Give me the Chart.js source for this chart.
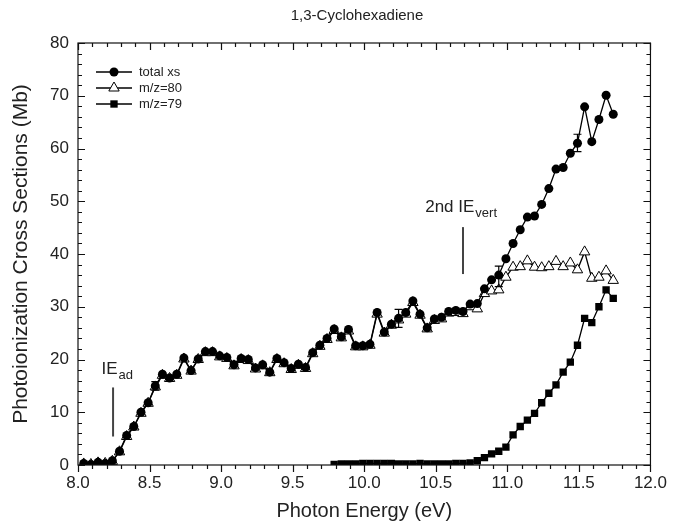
<!DOCTYPE html>
<html lang="en">
<head>
<meta charset="UTF-8" />
<title>1,3-Cyclohexadiene – photoionization cross sections</title>
<script src="https://cdn.jsdelivr.net/npm/chart.js"></script>
<style>
  html,body{margin:0;padding:0;background:#fff}
  #wrap{width:675px;height:525px}
</style>
</head>
<body>
<div id="wrap"><canvas id="xsChart" width="675" height="525"></canvas></div>

<script>
/* ---------- photon energies (eV) ---------- */
const energy = [
  8.04, 8.09, 8.14, 8.19, 8.24, 8.29, 8.34, 8.39, 8.44, 8.49,
  8.54, 8.59, 8.64, 8.69, 8.74, 8.79, 8.84, 8.89, 8.94, 8.99,
  9.04, 9.09, 9.14, 9.19, 9.24, 9.29, 9.34, 9.39, 9.44, 9.49,
  9.54, 9.59, 9.64, 9.69, 9.74, 9.79, 9.84, 9.89, 9.94, 9.99,
  10.04, 10.09, 10.14, 10.19, 10.24, 10.29, 10.34, 10.39, 10.44, 10.49,
  10.54, 10.59, 10.64, 10.69, 10.74, 10.79, 10.84, 10.89, 10.94, 10.99,
  11.04, 11.09, 11.14, 11.19, 11.24, 11.29, 11.34, 11.39, 11.44, 11.49,
  11.54, 11.59, 11.64, 11.69, 11.74
];

/* ---------- cross sections (Mb) ---------- */
const totalXs = [
  0.3, 0.1, 0.5, 0.3, 0.8, 2.6, 5.6, 7.3, 10.0, 11.8,
  15.0, 17.2, 16.5, 17.2, 20.3, 17.9, 20.1, 21.5, 21.5, 20.7,
  20.4, 19.0, 20.2, 20.0, 18.4, 19.0, 17.6, 20.2, 19.4, 18.3,
  19.1, 18.5, 21.3, 22.7, 24.0, 25.8, 24.3, 25.7, 22.6, 22.6,
  22.9, 28.9, 25.2, 26.7, 27.8, 28.9, 31.1, 28.6, 26.0, 27.7,
  28.0, 29.1, 29.3, 29.1, 30.5, 30.6, 33.4, 35.1, 36.0, 39.1,
  42.0, 44.6, 47.0, 47.2, 49.4, 52.4, 56.1, 56.4, 59.1, 61.0,
  67.9, 61.3, 65.5, 70.1, 66.5
];

const mz80 = [
  0.2, 0.1, 0.4, 0.3, 0.7, 2.5, 5.4, 7.2, 9.8, 11.7,
  14.8, 17.0, 16.4, 17.0, 20.1, 17.8, 20.0, 21.3, 21.3, 20.5,
  20.2, 18.8, 20.0, 19.8, 18.2, 18.8, 17.5, 20.0, 19.2, 18.1,
  18.9, 18.3, 21.1, 22.5, 23.8, 25.5, 24.1, 25.4, 22.4, 22.4,
  22.7, 28.6, 25.0, 26.5, 27.5, 28.6, 30.8, 28.4, 25.8, 27.4,
  27.7, 28.8, 28.9, 28.7, 30.0, 29.6, 32.5, 33.0, 33.2, 35.6,
  37.5, 37.6, 38.7, 37.5, 37.4, 37.6, 38.6, 37.6, 38.3, 37.0,
  40.4, 35.4, 35.6, 36.8, 35.0
];

// m/z=79 is only measured from 9.79 eV upward
const mz79Energy = energy.slice(35);
const mz79 = [
  0.1, 0.2, 0.2, 0.2, 0.3, 0.3, 0.3, 0.3, 0.3, 0.2,
  0.2, 0.2, 0.3, 0.2, 0.2, 0.2, 0.2, 0.3, 0.3, 0.4,
  0.8, 1.4, 2.1, 2.6, 3.4, 5.7, 7.3, 8.5, 9.8, 11.8,
  13.6, 15.2, 17.6, 19.5, 22.7, 27.8, 27.0, 30.0, 33.2, 31.6
];

/* ---------- error bars on total xs ---------- */
const errE   = [8.54, 10.24, 10.94, 11.49];
const errLo  = [14.2, 26.1, 33.8, 59.4];
const errHi  = [15.8, 29.5, 37.7, 62.7];

/* ---------- ionization energy markers (data coords) ---------- */
const ieLabels = [
  {main:'IE',     sub:'ad',   textE:8.164,  textY:17.3, lineE:8.245, lineFrom:5.4,  lineTo:14.7},
  {main:'2nd IE', sub:'vert', textE:10.426, textY:48.0, lineE:10.69, lineFrom:36.2, lineTo:45.1}
];

const chartTitle = '1,3-Cyclohexadiene';

const FONT = "'Liberation Sans', Arial, Helvetica, sans-serif";
Chart.defaults.font.family = FONT;
Chart.defaults.color = '#222';

const pts = (xs, ys) => xs.map((e, i) => ({x: e, y: ys[i]}));

/* ---------- frame, ticks, error bars, notes, legend ---------- */
const decor = {
  id: 'decor',
  afterDatasetsDraw(chart) {
    const {ctx, scales: {x, y}} = chart;
    ctx.save();
    ctx.strokeStyle = '#000';
    ctx.lineWidth = 1.2;
    errE.forEach((e, i) => {
      const px = x.getPixelForValue(e);
      const y1 = y.getPixelForValue(errLo[i]);
      const y2 = y.getPixelForValue(errHi[i]);
      ctx.beginPath();
      ctx.moveTo(px, y1); ctx.lineTo(px, y2);
      ctx.moveTo(px - 4, y1); ctx.lineTo(px + 4, y1);
      ctx.moveTo(px - 4, y2); ctx.lineTo(px + 4, y2);
      ctx.stroke();
    });
    ctx.restore();
  },
  afterDraw(chart) {
    const {ctx, chartArea: a, scales: {x, y}} = chart;
    ctx.save();

    // title
    ctx.fillStyle = '#222';
    ctx.font = '15px ' + FONT;
    ctx.textAlign = 'center';
    ctx.textBaseline = 'middle';
    ctx.fillText(chartTitle, 357, 16);
    ctx.textAlign = 'left';

    // box
    ctx.strokeStyle = '#111';
    ctx.lineWidth = 1.2;
    ctx.strokeRect(a.left, a.top, a.right - a.left, a.bottom - a.top);

    // x ticks: outward at the bottom, inward at the top
    ctx.beginPath();
    for (let v = 80; v <= 120; v++) {
      const px = Math.round(x.getPixelForValue(v / 10)) + 0.5;
      const len = v % 5 === 0 ? 7 : 4;
      ctx.moveTo(px, a.bottom); ctx.lineTo(px, a.bottom + len);
      ctx.moveTo(px, a.top);    ctx.lineTo(px, a.top + len);
    }
    // y ticks: inward on both sides
    for (let v = 0; v <= 80; v += 2) {
      const py = Math.round(y.getPixelForValue(v)) + 0.5;
      const len = v % 10 === 0 ? 7 : 4;
      ctx.moveTo(a.left, py);  ctx.lineTo(a.left + len, py);
      ctx.moveTo(a.right, py); ctx.lineTo(a.right - len, py);
    }
    ctx.stroke();

    // IE markers
    ctx.textBaseline = 'alphabetic';
    ieLabels.forEach(n => {
      const lx = x.getPixelForValue(n.lineE);
      ctx.strokeStyle = '#444';
      ctx.lineWidth = 2;
      ctx.beginPath();
      ctx.moveTo(lx, y.getPixelForValue(n.lineFrom));
      ctx.lineTo(lx, y.getPixelForValue(n.lineTo));
      ctx.stroke();

      const tx = x.getPixelForValue(n.textE);
      const ty = y.getPixelForValue(n.textY);
      ctx.font = '17px ' + FONT;
      ctx.fillText(n.main, tx, ty);
      const w = ctx.measureText(n.main).width;
      ctx.font = '13px ' + FONT;
      ctx.fillText(n.sub, tx + w + 1, ty + 5);
    });

    // legend, top-left inside the plot
    ctx.font = '13px ' + FONT;
    ctx.textBaseline = 'middle';
    chart.data.datasets.forEach((ds, i) => {
      const cy = 72 + i * 16;
      ctx.strokeStyle = '#000';
      ctx.lineWidth = 1.3;
      ctx.beginPath();
      ctx.moveTo(96, cy); ctx.lineTo(132, cy);
      ctx.stroke();
      ctx.fillStyle = ds.pointBackgroundColor;
      ctx.lineWidth = ds.pointBorderWidth || 1;
      ctx.beginPath();
      if (ds.pointStyle === 'circle') ctx.arc(114, cy, ds.pointRadius, 0, Math.PI * 2);
      else if (ds.pointStyle === 'rect') { const s = ds.pointRadius * Math.SQRT1_2; ctx.rect(114 - s, cy - s, 2 * s, 2 * s); }
      else { const r = ds.pointRadius; ctx.moveTo(114, cy - r); ctx.lineTo(114 + r * 0.866, cy + r * 0.5); ctx.lineTo(114 - r * 0.866, cy + r * 0.5); ctx.closePath(); }
      ctx.fill();
      if (ds.pointBorderWidth) ctx.stroke();
      ctx.fillStyle = '#222';
      ctx.fillText(ds.label, 139, cy);
    });

    ctx.restore();
  }
};

new Chart(document.getElementById('xsChart'), {
  type: 'scatter',
  data: {
    datasets: [
      {label: 'total xs', data: pts(energy, totalXs), showLine: true,
       borderColor: '#000', borderWidth: 1.3,
       pointStyle: 'circle', pointRadius: 4.5, pointBorderWidth: 0,
       pointBackgroundColor: '#000', pointBorderColor: '#000'},
      {label: 'm/z=80', data: pts(energy, mz80), showLine: true,
       borderColor: '#000', borderWidth: 1.3,
       pointStyle: 'triangle', pointRadius: 6, pointBorderWidth: 1,
       pointBackgroundColor: '#fff', pointBorderColor: '#000'},
      {label: 'm/z=79', data: pts(mz79Energy, mz79), showLine: true,
       borderColor: '#000', borderWidth: 1.3,
       pointStyle: 'rect', pointRadius: 5.2, pointBorderWidth: 0,
       pointBackgroundColor: '#000', pointBorderColor: '#000'}
    ]
  },
  options: {
    responsive: false,
    animation: false,
    layout: {padding: {left: 0, right: 20, top: 43, bottom: 0}},
    plugins: {
      legend: {display: false},
      tooltip: {enabled: false},
      title: {display: false}
    },
    scales: {
      x: {
        type: 'linear', min: 8, max: 12,
        grid: {display: false, drawTicks: false}, border: {display: false},
        ticks: {stepSize: 0.5, padding: 8, color: '#222', font: {size: 17},
                callback: v => v.toFixed(1)},
        title: {display: true, text: 'Photon Energy (eV)', color: '#222',
                font: {size: 20}, padding: {top: 0, bottom: 2}},
        afterFit: s => { s.height = 60; }
      },
      y: {
        min: 0, max: 80,
        grid: {display: false, drawTicks: false}, border: {display: false},
        ticks: {stepSize: 10, padding: 9, color: '#222', font: {size: 17}},
        title: {display: true, text: 'Photoionization Cross Sections (Mb)', color: '#222',
                font: {size: 21}, padding: {top: 9, bottom: 0}},
        afterFit: s => { s.width = 78; }
      }
    }
  },
  plugins: [decor]
});
</script>
</body>
</html>
